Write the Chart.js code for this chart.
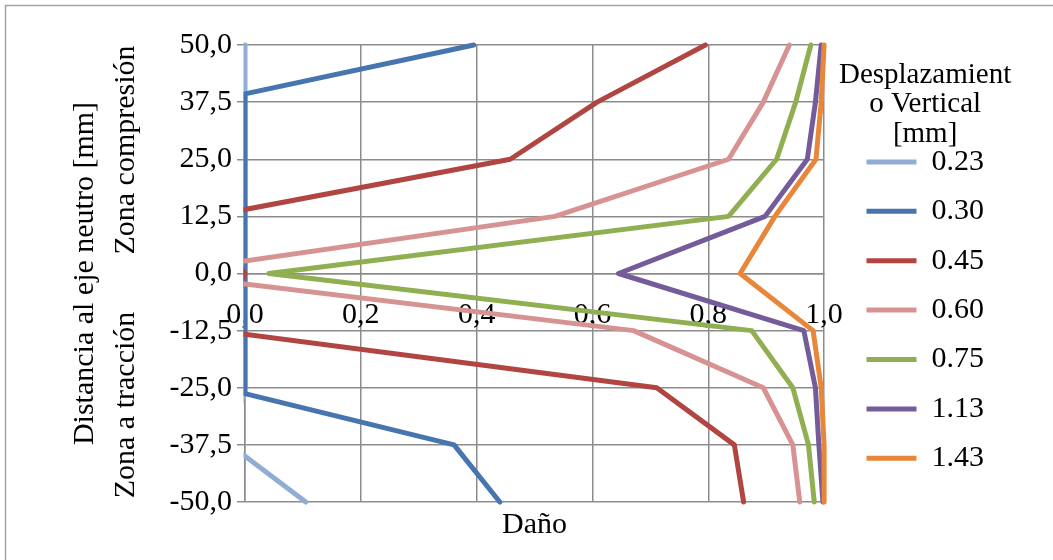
<!DOCTYPE html>
<html>
<head>
<meta charset="utf-8">
<script src="https://cdn.jsdelivr.net/npm/chart.js@4.4.1/dist/chart.umd.min.js"></script>
<style>
  html, body { margin: 0; padding: 0; background: #fff; }
  #wrap { width: 1053px; height: 560px; }
</style>
</head>
<body>
<div id="wrap"><canvas id="chart" width="1053" height="560"></canvas></div>
<script>
// --- Datos ---
const legendLabels = ['0.23', '0.30', '0.45', '0.60', '0.75', '1.13', '1.43'];
const legendTitle = ['Desplazamient', 'o Vertical', '[mm]'];
const lineColors = ['#92ADD3', '#4775AF', '#B04542', '#D69392', '#8FAF50', '#735C99', '#E8873A'];

const yTickLabels = ['-50,0', '-37,5', '-25,0', '-12,5', '0,0', '12,5', '25,0', '37,5', '50,0'];
const xTickLabels = ['0,0', '0,2', '0,4', '0,6', '0,8', '1,0'];

// posiciones (mm) y daño de cada curva
const posStd = [50, 37.5, 25, 12.5, 0, -12.5, -25, -37.5, -50];
const pos023 = [50, -25, -37.5, -50];
const dano023 = [0, 0, -0.026, 0.105];
const pos030 = [50, 39.3, -26.3, -37.5, -50];
const dano030 = [0.395, 0, 0, 0.361, 0.44];
const dano045 = [0.795, 0.608, 0.458, -0.0625, 0, -0.049, 0.711, 0.845, 0.861];
const dano060 = [0.94, 0.895, 0.835, 0.535, -0.15, 0.671, 0.895, 0.946, 0.958];
const dano075 = [0.977, 0.951, 0.918, 0.835, 0.041, 0.875, 0.946, 0.973, 0.983];
const dano113 = [0.995, 0.985, 0.971, 0.898, 0.645, 0.965, 0.985, 0.991, 0.998];
const dano143 = [1.0, 0.995, 0.986, 0.915, 0.855, 0.981, 0.995, 1.0, 1.0];

const seriesPos = [pos023, pos030, posStd, posStd, posStd, posStd, posStd];
const seriesDano = [dano023, dano030, dano045, dano060, dano075, dano113, dano143];

const FONT = '"Liberation Serif", "Times New Roman", serif';
const GRID = '#8c8c8c';

const datasets = legendLabels.map((label, i) => ({
    label: label,
    data: seriesPos[i].map((y, k) => ({ x: seriesDano[i][k], y: y })),
    showLine: true,
    borderColor: lineColors[i],
    backgroundColor: lineColors[i],
    borderWidth: 5,
    borderCapStyle: 'round',
    borderJoinStyle: 'round',
    pointRadius: 0,
    pointHoverRadius: 0,
    pointStyle: 'line',
    tension: 0,
    clip: { left: 1.5, top: 3, right: 3, bottom: 3 },
    order: legendLabels.length - i   // como Excel: la última serie queda encima
}));

// Borde exterior, título de la leyenda y textos de zona
const decorPlugin = {
    id: 'decor',
    beforeDraw(chart) {
        const ctx = chart.ctx;
        ctx.save();
        ctx.strokeStyle = '#a3a3a3';
        ctx.lineWidth = 1.5;
        ctx.beginPath();
        ctx.moveTo(5.5, chart.height);
        ctx.lineTo(5.5, 5.5);
        ctx.lineTo(chart.width, 5.5);
        ctx.stroke();
        ctx.restore();
    },
    afterDraw(chart) {
        const ctx = chart.ctx;
        const area = chart.chartArea;
        ctx.save();
        ctx.fillStyle = '#000';
        ctx.textAlign = 'center';
        ctx.textBaseline = 'middle';

        // título de la leyenda (centrado, en 3 líneas)
        ctx.font = '29px ' + FONT;
        legendTitle.forEach((line, i) => {
            ctx.fillText(line, area.right + 101, area.top + 30 + i * 29.5);
        });

        ctx.font = '30px ' + FONT;
        [['Zona compresión', area.top + 105], ['Zona a tracción', area.top + 360]].forEach(([txt, cy]) => {
            ctx.save();
            ctx.translate(area.left - 119, cy);
            ctx.rotate(-Math.PI / 2);
            ctx.fillText(txt, 0, 0);
            ctx.restore();
        });
        ctx.restore();
    }
};

Chart.defaults.font.family = FONT;
Chart.defaults.color = '#000';

new Chart(document.getElementById('chart'), {
    type: 'scatter',
    data: { datasets: datasets },
    plugins: [decorPlugin],
    options: {
        responsive: false,
        animation: false,
        layout: { padding: { left: 0, top: 45, right: 59, bottom: 0 } },
        plugins: {
            tooltip: { enabled: false },
            legend: {
                position: 'right',
                align: 'start',
                reverse: true,
                maxWidth: 150,
                title: {
                    display: true,
                    text: '',
                    font: { size: 29, lineHeight: 1.035 },
                    padding: { top: 15, bottom: 37.5 }
                },
                labels: {
                    usePointStyle: true,
                    pointStyleWidth: 50,
                    padding: 19.4,
                    color: '#000',
                    font: { size: 30, lineHeight: 1 }
                }
            }
        },
        scales: {
            x: {
                type: 'linear',
                position: { y: 0 },
                min: 0,
                max: 1,
                ticks: {
                    stepSize: 0.2,
                    padding: 24,
                    font: { size: 30 },
                    callback: (v, i) => xTickLabels[i]
                },
                grid: { color: GRID, lineWidth: 1.5, drawTicks: false },
                border: { color: GRID, width: 1.5 }
            },
            x2: {
                type: 'linear',
                position: 'bottom',
                ticks: { display: false },
                grid: { display: false },
                border: { display: false },
                title: {
                    display: true,
                    text: 'Daño',
                    font: { size: 30 },
                    padding: { top: 0, bottom: 17 }
                },
                afterFit: (scale) => { scale.height = 58; }
            },
            y: {
                type: 'linear',
                position: 'left',
                min: -50,
                max: 50,
                ticks: {
                    stepSize: 12.5,
                    padding: 5,
                    font: { size: 30 },
                    callback: (v, i) => yTickLabels[i]
                },
                grid: { color: GRID, lineWidth: 1.5, tickLength: 8 },
                border: { color: GRID, width: 1.5 },
                title: {
                    display: true,
                    text: 'Distancia al eje neutro [mm]',
                    font: { size: 30 },
                    padding: { top: 67, bottom: 0 }
                },
                afterFit: (scale) => { scale.width = 245; }
            },
            gap: {
                type: 'linear',
                position: 'right',
                ticks: { display: false },
                grid: { display: false },
                border: { display: false },
                afterFit: (scale) => { scale.width = 23; }
            }
        }
    }
});
</script>
</body>
</html>
